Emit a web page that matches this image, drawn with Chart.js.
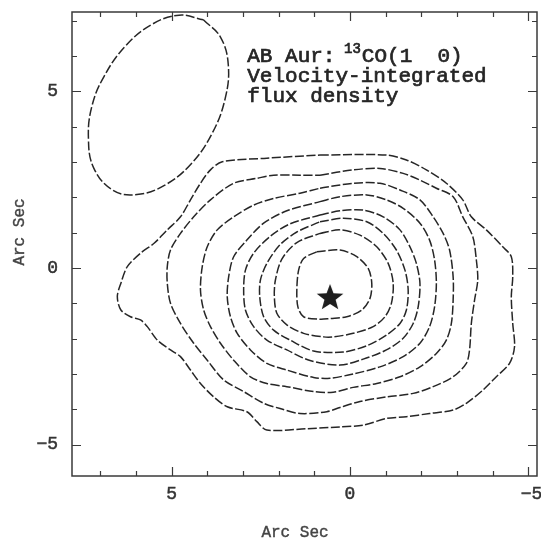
<!DOCTYPE html>
<html>
<head>
<meta charset="utf-8">
<script src="https://cdn.jsdelivr.net/npm/chart.js@4.4.0/dist/chart.umd.min.js"></script>
<style>
  html, body { margin: 0; padding: 0; background: #fff; overflow: hidden; }
  canvas { display: block; }
</style>
</head>
<body>
<canvas id="mapa" width="541" height="544"></canvas>
<script>
// Desplazamientos en segundos de arco (RA, Dec). Contornos del más externo al más interno.
const contorno1 = [[0.84,3.20],[-1.02,3.20],[-1.58,3.06],[-2.14,2.78],[-2.70,2.40],[-3.16,1.93],[-3.40,1.45],[-3.82,1.08],[-4.28,0.60],[-4.52,0.32],[-4.56,-0.25],[-4.52,-0.81],[-4.56,-1.57],[-4.61,-2.23],[-4.47,-2.70],[-4.10,-3.08],[-3.72,-3.46],[-3.26,-3.83],[-2.89,-4.02],[-2.23,-4.12],[-1.58,-4.21],[-1.02,-4.26],[-0.37,-4.45],[0.28,-4.50],[1.21,-4.55],[2.33,-4.59],[2.61,-4.35],[2.89,-4.07],[3.44,-3.93],[3.82,-3.65],[4.19,-3.27],[4.47,-2.89],[4.75,-2.51],[5.03,-2.32],[5.40,-2.04],[5.68,-1.66],[5.87,-1.47],[6.15,-1.38],[6.42,-1.19],[6.52,-0.81],[6.42,-0.43],[6.24,0.04],[5.87,0.42],[5.49,0.70],[5.12,1.08],[4.75,1.45],[4.47,1.93],[4.19,2.40],[3.91,2.78],[3.58,3.01],[2.33,3.11],[0.84,3.20]];
const contorno2 = [[0.84,2.63],[-0.09,2.78],[-0.84,2.82],[-1.49,2.68],[-1.96,2.49],[-2.42,2.26],[-2.89,2.02],[-3.16,1.45],[-3.44,0.89],[-3.54,0.23],[-3.58,-0.34],[-3.49,-0.91],[-3.40,-1.57],[-3.35,-2.32],[-3.26,-2.70],[-2.89,-3.08],[-2.33,-3.36],[-1.77,-3.55],[-1.02,-3.65],[-0.28,-3.78],[0.28,-3.95],[0.65,-4.07],[1.40,-4.12],[1.96,-3.98],[2.42,-3.83],[2.98,-3.50],[3.54,-3.17],[4.00,-2.61],[4.38,-2.13],[4.75,-1.57],[5.03,-1.00],[5.12,-0.43],[5.12,0.04],[5.03,0.51],[4.75,0.98],[4.38,1.45],[3.91,1.93],[3.26,2.40],[2.61,2.54],[2.14,2.63],[1.40,2.63],[0.84,2.63]];
const contorno3 = [[0.84,2.26],[-0.09,2.40],[-0.84,2.40],[-1.40,2.21],[-1.96,1.93],[-2.33,1.45],[-2.61,0.98],[-2.79,0.51],[-2.89,-0.25],[-2.89,-0.91],[-2.84,-1.57],[-2.70,-2.04],[-2.42,-2.42],[-1.96,-2.80],[-1.40,-3.08],[-0.75,-3.27],[-0.09,-3.38],[0.47,-3.52],[1.02,-3.50],[1.77,-3.36],[2.33,-3.27],[2.79,-3.08],[3.26,-2.61],[3.63,-2.13],[3.91,-1.66],[4.10,-1.19],[4.19,-0.62],[4.14,0.04],[4.00,0.60],[3.72,1.08],[3.26,1.45],[2.70,1.78],[2.14,1.97],[1.40,2.12],[0.84,2.26]];
const contorno4 = [[0.84,1.88],[0.28,2.02],[-0.47,2.07],[-1.02,1.93],[-1.49,1.69],[-1.96,1.27],[-2.23,0.79],[-2.37,0.23],[-2.42,-0.43],[-2.37,-1.10],[-2.23,-1.66],[-1.96,-2.13],[-1.49,-2.51],[-0.84,-2.80],[-0.09,-3.00],[0.56,-3.12],[1.02,-3.10],[1.77,-2.89],[2.33,-2.70],[2.79,-2.32],[3.16,-1.85],[3.35,-1.38],[3.44,-0.81],[3.40,-0.25],[3.26,0.32],[2.89,0.79],[2.42,1.27],[1.77,1.62],[0.84,1.88]];
const contorno5 = [[0.84,1.50],[0.28,1.62],[-0.37,1.64],[-0.93,1.45],[-1.40,1.08],[-1.68,0.60],[-1.86,0.13],[-1.96,-0.43],[-1.91,-1.10],[-1.77,-1.57],[-1.49,-1.99],[-1.02,-2.32],[-0.37,-2.58],[0.28,-2.75],[1.12,-2.62],[1.77,-2.32],[2.33,-2.04],[2.70,-1.66],[2.93,-1.19],[2.98,-0.62],[2.93,-0.06],[2.70,0.42],[2.23,0.90],[1.68,1.25],[0.84,1.50]];
const contorno6 = [[0.84,1.31],[0.19,1.41],[-0.47,1.31],[-0.93,0.98],[-1.30,0.51],[-1.54,-0.06],[-1.63,-0.62],[-1.58,-1.19],[-1.40,-1.57],[-1.02,-1.90],[-0.47,-2.20],[0.19,-2.38],[1.02,-2.35],[1.68,-2.04],[2.14,-1.76],[2.42,-1.38],[2.53,-0.81],[2.51,-0.34],[2.33,0.13],[1.96,0.66],[1.49,1.02],[0.84,1.31]];
const contorno7 = [[0.84,0.98],[0.28,1.08],[-0.28,0.93],[-0.75,0.60],[-1.07,0.13],[-1.21,-0.43],[-1.16,-1.00],[-0.98,-1.38],[-0.65,-1.66],[-0.09,-1.85],[0.47,-1.95],[0.74,-1.95],[1.30,-1.85],[1.77,-1.61],[2.05,-1.28],[2.12,-0.81],[2.09,-0.34],[1.91,0.25],[1.49,0.72],[0.84,0.98]];
const contorno8 = [[0.93,0.46],[0.28,0.51],[-0.19,0.32],[-0.51,-0.01],[-0.61,-0.43],[-0.56,-0.86],[-0.33,-1.19],[0.09,-1.38],[0.56,-1.43],[0.84,-1.45],[1.30,-1.38],[1.46,-1.10],[1.49,-0.62],[1.44,-0.06],[1.30,0.27],[0.93,0.46]];

// Haz sintetizado (esquina superior izquierda)
const haz = [[4.11,7.03],[3.63,6.54],[3.41,5.75],[3.50,4.79],[3.87,3.80],[4.46,2.94],[5.20,2.34],[5.97,2.08],[6.64,2.20],[7.18,2.83],[7.33,3.68],[7.23,4.59],[6.89,5.43],[6.29,6.29],[5.55,6.90],[4.79,7.16],[4.11,7.03]];

// Posición de la estrella
const estrella = [[0.56, -0.82]];

const ticksMayores = [-5, 0, 5];
const ticksMenoresX = [-5, -4, -3, -2, -1, 0, 1, 2, 3, 4, 5, 6, 7];
const ticksMenoresY = [-5, -4, -3, -2, -1, 0, 1, 2, 3, 4, 5, 6, 7];

const lineasTitulo = ['AB Aur: ', '13', 'CO(1', '0)', 'Velocity-integrated', 'flux density'];

const COLOR_TINTA = '#262626';
const FUENTE = "'Liberation Mono', 'DejaVu Sans Mono', monospace";

function aPuntos(par) {
    return par.map(([x, y]) => ({ x, y }));
}

function serieContorno(puntos) {
    return {
        data: aPuntos(puntos),
        showLine: true,
        borderColor: COLOR_TINTA,
        borderWidth: 1.5,
        borderDash: [9, 2.5],
        tension: 0.3,
        pointRadius: 0,
        fill: false,
    };
}

// Estrella rellena de cinco puntas como marcador
function crearMarcadorEstrella(tam) {
    const lienzo = document.createElement('canvas');
    lienzo.width = tam;
    lienzo.height = tam;
    const c = lienzo.getContext('2d');
    const r = tam / 2;
    c.beginPath();
    for (let i = 0; i < 10; i++) {
        const ang = -Math.PI / 2 + (i * Math.PI) / 5;
        const rad = i % 2 === 0 ? r : r * 0.42;
        c.lineTo(r + rad * Math.cos(ang), r + 1 + rad * Math.sin(ang));
    }
    c.closePath();
    c.fillStyle = '#1e1e1e';
    c.fill();
    return lienzo;
}

// Texto algo más grueso, como impreso
function textoGrueso(ctx, txt, x, y) {
    ctx.fillText(txt, x, y);
    ctx.strokeText(txt, x, y);
}

const etiquetaTick = (v) => (v < 0 ? '\u2212' + Math.abs(v) : String(v));

// Marco, marcas hacia dentro en los cuatro lados, etiquetas y rótulos
const marcoPlugin = {
    id: 'marco',
    afterDraw(chart) {
        const { ctx, chartArea: a, scales: { x, y } } = chart;
        ctx.save();
        ctx.strokeStyle = '#3a3a3a';
        ctx.lineWidth = 1.5;
        ctx.strokeRect(a.left, a.top, a.right - a.left, a.bottom - a.top);
        ctx.lineWidth = 1.2;
        ctx.beginPath();
        ticksMenoresX.forEach((v) => {
            const px = Math.round(x.getPixelForValue(v)) + 0.5;
            const largo = ticksMayores.includes(v) ? 9 : 5;
            ctx.moveTo(px, a.bottom);
            ctx.lineTo(px, a.bottom - largo);
            ctx.moveTo(px, a.top);
            ctx.lineTo(px, a.top + largo);
        });
        ticksMenoresY.forEach((v) => {
            const py = Math.round(y.getPixelForValue(v)) + 0.5;
            const largo = ticksMayores.includes(v) ? 9 : 5;
            ctx.moveTo(a.left, py);
            ctx.lineTo(a.left + largo, py);
            ctx.moveTo(a.right, py);
            ctx.lineTo(a.right - largo, py);
        });
        ctx.stroke();

        // Etiquetas de las marcas mayores
        ctx.fillStyle = '#333';
        ctx.strokeStyle = '#333';
        ctx.lineWidth = 0.5;
        ctx.font = `18px ${FUENTE}`;
        ctx.textBaseline = 'middle';
        ctx.textAlign = 'center';
        ticksMayores.forEach((v) => {
            textoGrueso(ctx, etiquetaTick(v), x.getPixelForValue(v) + (v < 0 ? 3 : 0), a.bottom + 18);
        });
        ctx.textAlign = 'right';
        ticksMayores.forEach((v) => {
            textoGrueso(ctx, etiquetaTick(v), a.left - 14, y.getPixelForValue(v));
        });

        // Títulos de ejes
        ctx.fillStyle = '#444';
        ctx.strokeStyle = '#444';
        ctx.lineWidth = 0.4;
        ctx.font = `16px ${FUENTE}`;
        ctx.textAlign = 'center';
        textoGrueso(ctx, 'Arc Sec', 295, 533);
        ctx.save();
        ctx.translate(20, 232);
        ctx.rotate(-Math.PI / 2);
        textoGrueso(ctx, 'Arc Sec', 0, 0);
        ctx.restore();

        // Rótulo del mapa
        const x0 = x.getPixelForValue(2.88);
        const y0 = y.getPixelForValue(5.84);
        ctx.fillStyle = COLOR_TINTA;
        ctx.strokeStyle = COLOR_TINTA;
        ctx.lineWidth = 0.7;
        ctx.textAlign = 'left';
        ctx.textBaseline = 'alphabetic';
        ctx.font = `21px ${FUENTE}`;
        textoGrueso(ctx, lineasTitulo[0], x0, y0);
        let cursor = x0 + ctx.measureText(lineasTitulo[0]).width;
        ctx.font = `14px ${FUENTE}`;
        textoGrueso(ctx, lineasTitulo[1], cursor - 4, y0 - 9);
        cursor += ctx.measureText(lineasTitulo[1]).width - 3;
        ctx.font = `21px ${FUENTE}`;
        textoGrueso(ctx, lineasTitulo[2], cursor, y0);
        cursor += ctx.measureText(lineasTitulo[2] + '  ').width;
        textoGrueso(ctx, lineasTitulo[3], cursor, y0);
        textoGrueso(ctx, lineasTitulo[4], x0, y0 + 20);
        textoGrueso(ctx, lineasTitulo[5], x0, y0 + 40);
        ctx.restore();
    },
};

new Chart(document.getElementById('mapa'), {
    type: 'scatter',
    data: {
        datasets: [
            serieContorno(contorno1),
            serieContorno(contorno2),
            serieContorno(contorno3),
            serieContorno(contorno4),
            serieContorno(contorno5),
            serieContorno(contorno6),
            serieContorno(contorno7),
            serieContorno(contorno8),
            { ...serieContorno(haz), tension: 0.4 },
            {
                data: aPuntos(estrella),
                pointStyle: crearMarcadorEstrella(28),
                pointRadius: 14,
                showLine: false,
            },
        ],
    },
    options: {
        responsive: false,
        animation: false,
        // El área del mapa queda fija (sin margen automático por el radio de la estrella)
        layout: { autoPadding: false, padding: { top: 12, right: 4, left: 72, bottom: 68 } },
        plugins: { legend: { display: false }, tooltip: { enabled: false } },
        scales: {
            x: { type: 'linear', reverse: true, min: -5.24, max: 7.79, display: false },
            y: { type: 'linear', min: -5.89, max: 7.25, display: false },
        },
    },
    plugins: [marcoPlugin],
});
</script>
</body>
</html>
